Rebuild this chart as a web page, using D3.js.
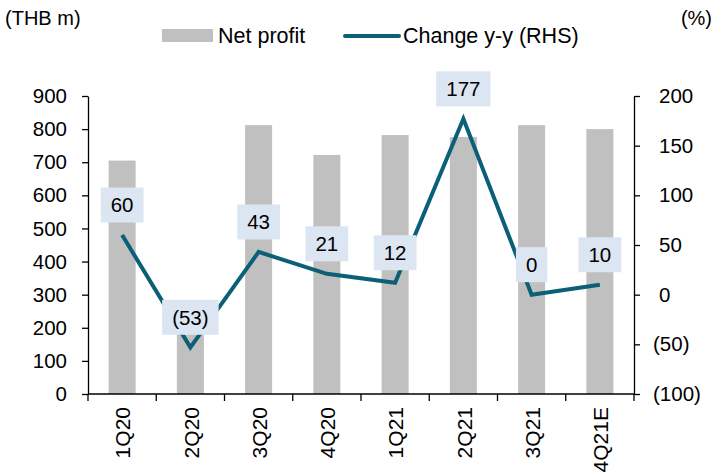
<!DOCTYPE html>
<meta charset="utf-8">
<head>
<title>Net profit and change y-y</title>
<script src="https://cdnjs.cloudflare.com/ajax/libs/d3/7.8.5/d3.min.js" charset="utf-8"></script>
<style type="text/css">
body {margin: 0; background: #fff;}
text {font-family: "Liberation Sans", Arial, sans-serif; font-size: 20px; fill: #000;}
.domain, .tick line {stroke: #000; stroke-width: 1.3;}
</style>
</head>
<body>
<script>
// Data
var quarters  = ["1Q20", "2Q20", "3Q20", "4Q20", "1Q21", "2Q21", "3Q21", "4Q21E"],
    netProfit = [705, 215, 812, 722, 782, 776, 812, 800],
    changeYY  = [60, -53, 43, 21, 12, 177, 0, 10],
    leftTicks  = [0, 100, 200, 300, 400, 500, 600, 700, 800, 900],
    rightTicks = [-100, -50, 0, 50, 100, 150, 200];

// Parameters
var width   = 721,
    height  = 475,
    pLeft   = 88,
    pRight  = 634,
    pTop    = 96,
    pBottom = 394,
    barCol  = "#c0c0c0",
    lineCol = "#0b5f77",
    boxCol  = "#dce6f2",
    font    = "'Liberation Sans', Arial, sans-serif";

var fmt = function(v) { return v < 0 ? "(" + Math.abs(v) + ")" : "" + v; };

var svg = d3.select("body").append("svg")
  .attr("width", width)
  .attr("height", height);

var xb = d3.scaleBand()
  .domain(quarters)
  .range([pLeft, pRight]);

var cx = d => xb(d) + xb.bandwidth() / 2;

var yL = d3.scaleLinear().domain([0, 900]).range([pBottom, pTop]);
var yR = d3.scaleLinear().domain([-100, 200]).range([pBottom, pTop]);

// bars
svg.selectAll("rect.bar")
  .data(netProfit)
  .enter()
  .append("rect")
  .attr("class", "bar")
  .attr("x", (d, i) => cx(quarters[i]) - 13.5)
  .attr("width", 27)
  .attr("y", d => yL(d))
  .attr("height", d => pBottom - yL(d))
  .style("fill", barCol);

// line
var line = d3.line()
  .x((d, i) => cx(quarters[i]))
  .y(d => yR(d));

svg.append("path")
  .datum(changeYY)
  .attr("d", line)
  .style("fill", "none")
  .style("stroke", lineCol)
  .style("stroke-width", 4);

// axes
svg.append("g")
  .attr("transform", "translate(" + pLeft + ",0)")
  .call(d3.axisLeft(yL).tickValues(leftTicks).tickSize(6).tickPadding(15).tickSizeOuter(0))
  .call(g => g.selectAll("text").style("font-size", "20.5px").style("font-family", font));

svg.append("g")
  .attr("transform", "translate(" + pRight + ",0)")
  .call(d3.axisRight(yR).tickValues(rightTicks).tickFormat(fmt).tickSize(6).tickPadding(13).tickSizeOuter(0))
  .call(g => g.selectAll("text").style("font-size", "20.5px").style("font-family", font)
    .attr("dx", d => d >= 0 ? 6 : 0));

var xAxis = svg.append("g")
  .attr("transform", "translate(0," + pBottom + ")");
xAxis.append("line")
  .attr("x1", pLeft).attr("x2", pRight)
  .style("stroke", "#000").style("stroke-width", 1.3);
xAxis.selectAll("line.tk")
  .data(d3.range(quarters.length + 1))
  .enter()
  .append("line")
  .attr("class", "tk")
  .attr("x1", i => pLeft + i * xb.step()).attr("x2", i => pLeft + i * xb.step())
  .attr("y1", 0).attr("y2", 7)
  .style("stroke", "#000").style("stroke-width", 1.3);
xAxis.selectAll("text")
  .data(quarters)
  .enter()
  .append("text")
  .attr("transform", d => "translate(" + (cx(d) + 1) + ",13) rotate(-90)")
  .attr("text-anchor", "end")
  .attr("dy", "0.35em")
  .style("font-size", "21px")
  .text(d => d);

// data labels
var lab = svg.selectAll("g.lab")
  .data(changeYY)
  .enter()
  .append("g")
  .attr("class", "lab")
  .attr("transform", (d, i) => "translate(" + cx(quarters[i]) + "," + (yR(d) - 30) + ")");

lab.append("text")
  .attr("text-anchor", "middle")
  .attr("dy", "0.36em")
  .style("font-size", "20.5px")
  .text(d => fmt(d));

lab.insert("rect", "text")
  .each(function() {
    var t = this.parentNode.querySelector("text").getBBox();
    d3.select(this)
      .attr("x", t.x - 10).attr("width", t.width + 20)
      .attr("y", -17.5).attr("height", 35)
      .style("fill", boxCol);
  });

// titles
svg.append("text").attr("x", 5).attr("y", 25).text("(THB m)");
svg.append("text").attr("x", 712).attr("y", 25).attr("text-anchor", "end").text("(%)");

// legend
svg.append("rect").attr("x", 162).attr("y", 29).attr("width", 51).attr("height", 13).style("fill", barCol);
svg.append("text").attr("x", 218).attr("y", 43).style("font-size", "21.5px").text("Net profit");
svg.append("line").attr("x1", 345).attr("x2", 399).attr("y1", 36).attr("y2", 36)
  .style("stroke", lineCol).style("stroke-width", 4).style("stroke-linecap", "round");
svg.append("text").attr("x", 403).attr("y", 43).style("font-size", "21.5px").text("Change y-y (RHS)");
</script>
</body>
